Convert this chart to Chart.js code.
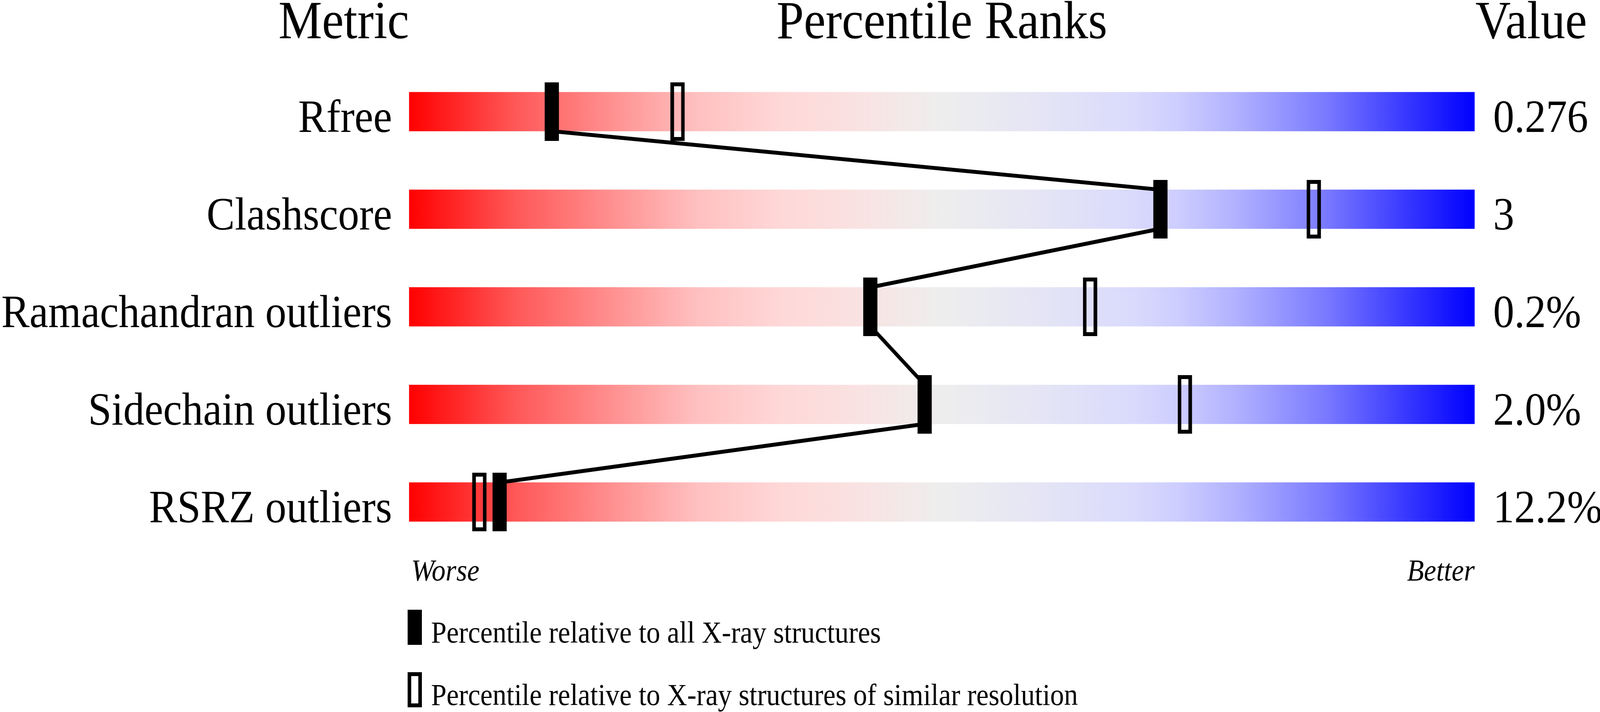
<!DOCTYPE html>
<html>
<head>
<meta charset="utf-8">
<script src="https://cdn.jsdelivr.net/npm/chart.js@4.4.1/dist/chart.umd.min.js"></script>
<style>
html,body{margin:0;padding:0;background:#ffffff;overflow:hidden;}
#wrap{width:4506px;height:1824px;position:absolute;left:0;top:0;transform-origin:0 0;}
</style>
</head>
<body>
<div id="wrap"><canvas id="c"></canvas></div>
<script>
// ---- data ----
const metrics = ['Rfree', 'Clashscore', 'Ramachandran outliers', 'Sidechain outliers', 'RSRZ outliers'];
const metricValues = ['0.276', '3', '0.2%', '2.0%', '12.2%'];
const pctAll = [13.4, 70.5, 43.3, 48.4, 8.5];          // percentile vs all X-ray structures
const pctSimilar = [25.2, 84.9, 63.9, 72.8, 6.6];      // percentile vs similar resolution
const headers = ['Metric', 'Percentile Ranks', 'Value'];
const axisEnds = ['Worse', 'Better'];
const legendLabels = ['Percentile relative to all X-ray structures',
                      'Percentile relative to X-ray structures of similar resolution'];

// ---- fit the 4506x1824 design to the actual window ----
const DESIGN_W = 4506, DESIGN_H = 1824;
(function fit() {
  const w = window.innerWidth || DESIGN_W, h = window.innerHeight || DESIGN_H;
  const sx = w / DESIGN_W, sy = h / DESIGN_H;
  if (Math.abs(sx - 1) > 0.001 || Math.abs(sy - 1) > 0.001) {
    document.getElementById('wrap').style.transform = 'scale(' + sx + ',' + sy + ')';
  }
})();

// ---- style ----
const FONT = '"Liberation Serif", "Times New Roman", serif';
const gradientStops = [
  [0.00, 'rgb(255,0,0)'],
  [0.10, 'rgb(255,88,88)'],
  [0.20, 'rgb(255,150,150)'],
  [0.27, 'rgb(255,192,192)'],
  [0.35, 'rgb(255,216,216)'],
  [0.42, 'rgb(250,226,226)'],
  [0.50, 'rgb(238,238,238)'],
  [0.60, 'rgb(228,228,246)'],
  [0.68, 'rgb(218,218,253)'],
  [0.72, 'rgb(206,206,255)'],
  [0.78, 'rgb(175,175,255)'],
  [0.86, 'rgb(122,122,255)'],
  [1.00, 'rgb(0,0,255)']
];
const BAR_THICK = 100, ROW_STEP = 250;
const barHalf = BAR_THICK / 2 / ROW_STEP;

function makeMarker(w, h, filled, border) {
  const c = document.createElement('canvas');
  c.width = w; c.height = h;
  const g = c.getContext('2d');
  g.fillStyle = '#000';
  if (filled) {
    g.fillRect(0, 0, w, h);
  } else {
    g.fillRect(0, 0, w, border);
    g.fillRect(0, h - border, w, border);
    g.fillRect(0, 0, border, h);
    g.fillRect(w - border, 0, border, h);
  }
  return c;
}
const markerAll = makeMarker(40, 150, true, 10);
const markerSimilar = makeMarker(40, 150, false, 10);

// connecting line: from bottom of each bar to top of the next, at the "all" percentile
const linePoints = [];
pctAll.forEach((p, i) => {
  if (i > 0) linePoints.push({x: p, y: i - barHalf});
  if (i < pctAll.length - 1) linePoints.push({x: p, y: i + barHalf});
});

function barGradient(ctx) {
  const chart = ctx.chart;
  if (!chart.chartArea) return 'rgb(238,238,238)';
  const xs = chart.scales.x;
  const g = chart.ctx.createLinearGradient(xs.getPixelForValue(0), 0, xs.getPixelForValue(100), 0);
  gradientStops.forEach(s => g.addColorStop(s[0], s[1]));
  return g;
}

const textPlugin = {
  id: 'texts',
  afterDraw(chart) {
    const ctx = chart.ctx;
    const xs = chart.scales.x;
    const ys = chart.scales.yCat;
    const x0 = xs.getPixelForValue(0), x1 = xs.getPixelForValue(100);
    ctx.save();
    ctx.fillStyle = '#000';
    ctx.textBaseline = 'alphabetic';
    // column headers
    ctx.font = '138px ' + FONT;
    ctx.textAlign = 'right';
    ctx.fillText(headers[0], x0, 98);
    ctx.textAlign = 'center';
    ctx.fillText(headers[1], (x0 + x1) / 2, 98);
    ctx.textAlign = 'left';
    ctx.fillText(headers[2], x1 + 2, 98);
    // metric names and values
    ctx.font = '119px ' + FONT;
    metrics.forEach((m, i) => {
      const y = ys.getPixelForValue(i) + 52;
      ctx.textAlign = 'right';
      ctx.fillText(m, x0 - 48, y);
      ctx.textAlign = 'left';
      ctx.fillText(metricValues[i], x1 + 52, y);
    });
    // worse / better
    ctx.font = 'italic 78px ' + FONT;
    const yLast = ys.getPixelForValue(metrics.length - 1);
    ctx.textAlign = 'left';
    ctx.fillText(axisEnds[0], x0 + 6, yLast + 201);
    ctx.textAlign = 'right';
    ctx.fillText(axisEnds[1], x1, yLast + 201);
    // legend
    ctx.font = '78px ' + FONT;
    ctx.textAlign = 'left';
    const lx = x0 - 4;
    const legendTops = [yLast + 276, yLast + 436];
    const legendMarkers = [makeMarker(40, 90, true, 10), makeMarker(40, 90, false, 10)];
    legendLabels.forEach((t, k) => {
      ctx.drawImage(legendMarkers[k], lx, legendTops[k]);
      ctx.fillText(t, lx + 66, legendTops[k] + 84);
    });
    ctx.restore();
  }
};

const chart = new Chart(document.getElementById('c'), {
  type: 'bar',
  data: {
    labels: metrics,
    datasets: [
      { type: 'scatter', label: legendLabels[1], data: pctSimilar.map((p, i) => ({x: p, y: i})),
        xAxisID: 'x', yAxisID: 'y', pointStyle: markerSimilar, pointRadius: 20, pointHoverRadius: 20,
        showLine: false, order: 0 },
      { type: 'scatter', label: legendLabels[0], data: pctAll.map((p, i) => ({x: p, y: i})),
        xAxisID: 'x', yAxisID: 'y', pointStyle: markerAll, pointRadius: 20, pointHoverRadius: 20,
        showLine: false, order: 1 },
      { type: 'line', label: 'link', data: linePoints, xAxisID: 'x', yAxisID: 'y',
        borderColor: '#000', borderWidth: 10, pointRadius: 0, tension: 0, fill: false, order: 2 },
      { type: 'bar', label: 'range', indexAxis: 'y', data: metrics.map(() => [0, 100]),
        xAxisID: 'x', yAxisID: 'yCat', barThickness: BAR_THICK, backgroundColor: barGradient,
        borderWidth: 0, order: 3 }
    ]
  },
  options: {
    responsive: true,
    maintainAspectRatio: false,
    animation: false,
    events: [],
    layout: { padding: { left: 1152, right: 353, top: 161, bottom: 413 } },
    plugins: { legend: { display: false }, tooltip: { enabled: false }, title: { display: false } },
    scales: {
      x: { type: 'linear', min: 0, max: 100, offset: false, display: false },
      yCat: { type: 'category', labels: metrics, display: false, offset: true },
      y: { type: 'linear', min: -0.5, max: 4.5, reverse: true, offset: false, display: false }
    }
  },
  plugins: [textPlugin]
});
</script>
</body>
</html>
